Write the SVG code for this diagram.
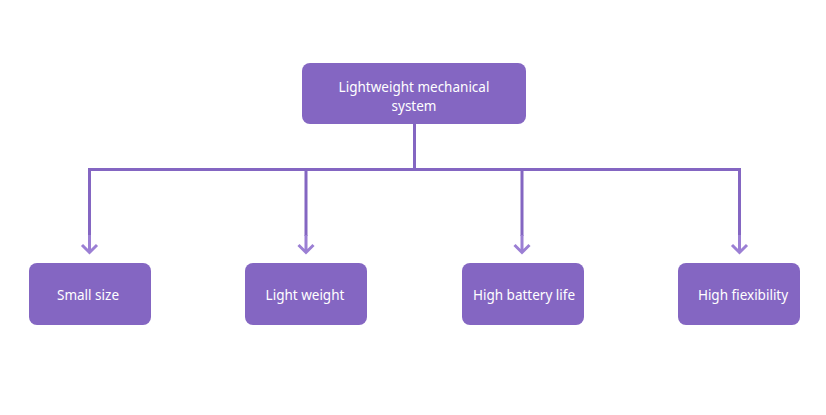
<svg xmlns="http://www.w3.org/2000/svg" width="826" height="415" viewBox="0 0 826 415">
<defs>
<style>
.box{fill:#8466c2;}
.t{fill:#ffffff;font-family:"Noto Sans","Open Sans",sans-serif;font-size:13.5px;text-anchor:middle;}
.c{stroke:#8466c2;stroke-width:3;fill:none;}
.a{stroke:#9b7fd4;stroke-width:3;fill:none;}
</style>
</defs>
<rect width="826" height="415" fill="#ffffff"/>
<g id="connectors">
<path class="c" d="M414.5 124 V169.5 M89.5 169.5 H739.5 M89.5 168 V236 M306 168 V236 M522 168 V236 M739.5 168 V236"/>
<path class="a" d="M89.5 235 V252 M82 245 L89.5 252.5 L97 245 M306 235 V252 M298.5 245 L306 252.5 L313.5 245 M522 235 V252 M514.5 245 L522 252.5 L529.5 245 M739.5 235 V252 M732 245 L739.5 252.5 L747 245"/>
</g>
<g id="root">
<rect class="box" x="302" y="63" width="224" height="61" rx="8"/>
<text class="t" x="414" y="92">Lightweight mechanical</text>
<text class="t" x="414" y="111">system</text>
</g>
<g id="n1">
<rect class="box" x="29" y="263" width="122" height="62" rx="8"/>
<text class="t" x="88" y="300">Small size</text>
</g>
<g id="n2">
<rect class="box" x="245" y="263" width="122" height="62" rx="8"/>
<text class="t" x="305" y="300">Light weight</text>
</g>
<g id="n3">
<rect class="box" x="462" y="263" width="122" height="62" rx="8"/>
<text class="t" x="524" y="300">High battery life</text>
</g>
<g id="n4">
<rect class="box" x="678" y="263" width="122" height="62" rx="8"/>
<text class="t" x="743" y="300">High fiexibility</text>
</g>
</svg>
